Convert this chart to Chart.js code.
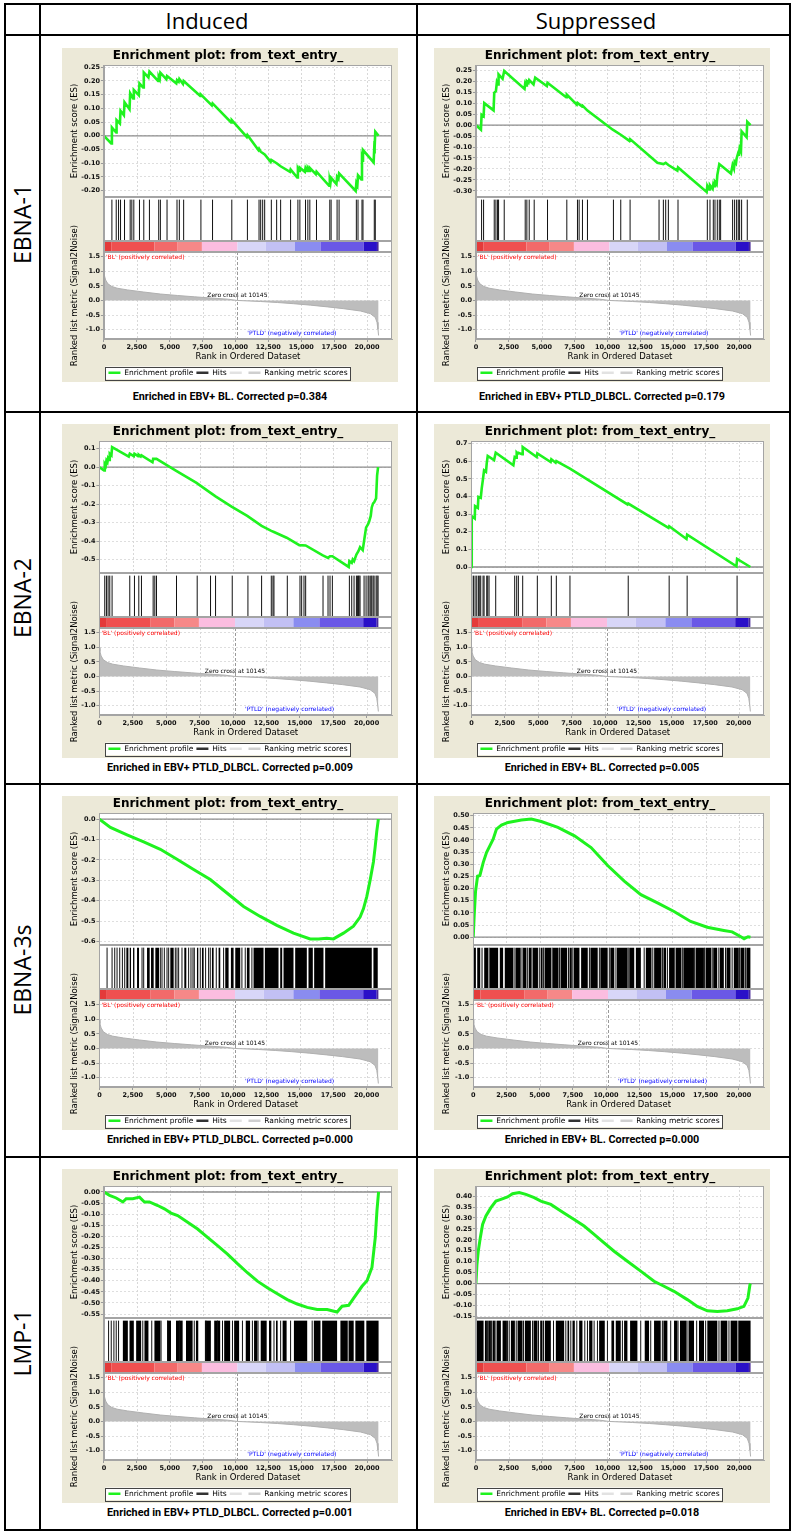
<!DOCTYPE html>
<html lang="en">
<head>
<meta charset="UTF-8">
<title>GSEA enrichment plots - EBV latent genes</title>
<script src="https://cdn.jsdelivr.net/npm/chart.js"></script>
<style>
  body { margin: 0; background: #fff; }
  #page { position: relative; width: 794px; height: 1536px; overflow: hidden; }
  .rule { position: absolute; background: #000; }
  .head { position: absolute; width: 300px; text-align: center; font-family: 'Open Sans', sans-serif; font-size: 22px; line-height: 30px; color: #000; }
  .rowname { position: absolute; width: 300px; height: 30px; line-height: 30px; text-align: center;
             font-family: 'Open Sans', sans-serif; font-size: 23px; color: #000; transform: rotate(-90deg); }
  .panel { position: absolute; width: 336px; height: 334px; background: #ece9d8; }
  .caption { position: absolute; width: 336px; text-align: center; font-family: Roboto, sans-serif;
             font-weight: bold; font-size: 10.8px; line-height: 14px; color: #000; }
</style>
</head>
<body>
<div id="page"></div>

<script>
// ---- data ----
const colNames = ['Induced', 'Suppressed'];
const rowNames = ['EBNA-1', 'EBNA-2', 'EBNA-3s', 'LMP-1'];
const captions = [
  'Enriched in EBV+ BL. Corrected p=0.384', 'Enriched in EBV+ PTLD_DLBCL. Corrected p=0.179',
  'Enriched in EBV+ PTLD_DLBCL. Corrected p=0.009', 'Enriched in EBV+ BL. Corrected p=0.005',
  'Enriched in EBV+ PTLD_DLBCL. Corrected p=0.000', 'Enriched in EBV+ BL. Corrected p=0.000',
  'Enriched in EBV+ PTLD_DLBCL. Corrected p=0.001', 'Enriched in EBV+ BL. Corrected p=0.018'
];
const legendText = ['Enrichment profile', 'Hits', '', 'Ranking metric scores'];
const corrLabels = ["'BL' (positively correlated)", "'PTLD' (negatively correlated)"];
const zeroCross = 10145;
const xTicks = [0, 2500, 5000, 7500, 10000, 12500, 15000, 17500, 20000];

// ranked list metric (same ranked list in every plot)
const rankPos = [0, 40, 130, 300, 600, 1000, 1800, 3000, 4300, 5600, 6900, 8100, 9400, 10145,
                 11900, 13200, 14400, 15700, 17000, 18200, 19500, 20250, 20630, 20760, 20830, 20880];
const rankMetric = [0.99, 0.85, 0.70, 0.57, 0.48, 0.42, 0.36, 0.29, 0.22, 0.17, 0.125, 0.085, 0.045, 0,
                    -0.035, -0.07, -0.11, -0.16, -0.22, -0.28, -0.36, -0.45, -0.58, -0.75, -0.98, -1.20];
// colour bar segment edges along the ranked list
const barEdges = [0, 555, 3838, 5605, 7449, 10151, 12297, 14519, 16463, 19745, 20756, 20880];

// running enrichment score [rank, ES]
const ebna1IndES = [[0,0],[555,-0.028],[606,0.030],[934,0.012],[960,0.057],[1212,0.045],[1262,0.091],[1515,0.075],
  [1565,0.122],[1944,0.097],[1995,0.155],[2222,0.136],[2272,0.167],[2651,0.148],[2702,0.191],[2979,0.176],[3030,0.231],
  [3383,0.213],[3459,0.234],[4116,0.200],[4166,0.215],[4242,0.207],[4292,0.230],[4747,0.206],[4797,0.218],[5504,0.191],
  [5555,0.203],[5681,0.197],[5732,0.207],[6010,0.189],[6060,0.200],[7322,0.145],[7373,0.150],[8206,0.111],[8257,0.118],
  [9670,0.049],[9721,0.057],[10858,-0.004],[10908,0.003],[11741,-0.052],[11792,-0.047],[11918,-0.058],[12221,-0.068],
  [12675,-0.095],[12726,-0.088],[13130,-0.100],[13433,-0.111],[14140,-0.131],[14190,-0.123],[14695,-0.152],[14746,-0.119],
  [14847,-0.128],[14897,-0.116],[15276,-0.131],[15326,-0.117],[15453,-0.128],[15503,-0.119],[15604,-0.128],[15654,-0.117],
  [16109,-0.140],[16160,-0.131],[17119,-0.182],[17170,-0.162],[17220,-0.172],[17271,-0.153],[17675,-0.176],[17725,-0.150],
  [17826,-0.157],[17877,-0.137],[19140,-0.201],[19190,-0.172],[19266,-0.180],[19316,-0.144],[19569,-0.159],[19619,-0.086],
  [19644,-0.091],[19695,-0.052],[20503,-0.097],[20554,-0.040],[20579,-0.043],[20629,0.015],[20880,0]];
const ebna1SupES = [[0,0],[380,-0.021],[430,0.047],[582,0.040],[633,0.100],[1341,0.067],[1392,0.147],[1519,0.155],
  [1594,0.196],[1680,0.185],[1721,0.231],[2025,0.211],[2151,0.247],[3695,0.165],[3746,0.190],[3822,0.181],[3872,0.200],
  [3999,0.193],[4050,0.205],[4379,0.185],[4505,0.216],[5391,0.178],[5442,0.193],[6859,0.127],[6910,0.139],[7669,0.093],
  [7720,0.101],[8049,0.086],[8099,0.089],[8479,0.066],[10402,-0.021],[11010,-0.044],[11668,-0.072],[11719,-0.064],
  [13794,-0.172],[14250,-0.178],[14427,-0.172],[14630,-0.182],[15313,-0.208],[15363,-0.193],[17540,-0.305],[17591,-0.277],
  [17743,-0.294],[17793,-0.274],[17996,-0.290],[18046,-0.270],[18122,-0.279],[18173,-0.259],[18300,-0.270],[18350,-0.228],
  [18502,-0.178],[19388,-0.221],[19514,-0.182],[19615,-0.198],[19666,-0.167],[19768,-0.175],[19818,-0.152],[19944,-0.126],
  [19995,-0.129],[20046,-0.106],[20147,-0.121],[20198,-0.029],[20577,-0.055],[20628,0.015],[20880,0]];
const ebna2IndES = [[0,0],[350,-0.018],[400,0.018],[475,0.009],[525,0.036],[600,0.027],[649,0.049],[724,0.040],
  [774,0.073],[899,0.064],[949,0.109],[2198,0.058],[2273,0.073],[2573,0.060],[2623,0.073],[2898,0.060],[2948,0.067],
  [3097,0.058],[3147,0.064],[3972,0.027],[4022,0.045],[4272,0.045],[5720,-0.018],[7269,-0.085],[8268,-0.136],
  [8693,-0.158],[9892,-0.213],[11066,-0.264],[12140,-0.318],[12865,-0.345],[13065,-0.351],[14014,-0.382],[14963,-0.422],
  [15438,-0.424],[16687,-0.476],[17111,-0.491],[17261,-0.482],[17436,-0.482],[18660,-0.540],[18710,-0.509],[18885,-0.518],
  [18960,-0.500],[19060,-0.509],[19235,-0.473],[19385,-0.455],[19509,-0.433],[19709,-0.449],[19809,-0.400],[19959,-0.327],
  [20109,-0.309],[20184,-0.296],[20309,-0.264],[20384,-0.218],[20484,-0.196],[20559,-0.191],[20709,-0.169],[20784,-0.045],
  [20858,0],[20880,0]];
const ebna2SupES = [[0,0],[25,0.288],[250,0.275],[274,0.345],[480,0.335],[523,0.398],[700,0.392],[772,0.446],
  [850,0.490],[947,0.548],[1090,0.540],[1146,0.588],[1221,0.630],[1695,0.607],[1819,0.649],[3140,0.577],[3240,0.624],
  [3339,0.620],[3389,0.649],[3464,0.643],[3514,0.648],[3788,0.640],[3838,0.681],[4884,0.624],[4934,0.645],[5931,0.596],
  [5981,0.611],[6305,0.592],[6355,0.601],[7376,0.558],[11687,0.355],[11737,0.360],[14752,0.222],[14802,0.231],
  [16098,0.159],[16148,0.184],[19836,0.004],[19886,0.046],[20880,0]];
const ebna3IndES = [[0,0],[822,-0.041],[2068,-0.077],[3314,-0.112],[4560,-0.148],[5806,-0.197],[7052,-0.247],
  [8298,-0.296],[9544,-0.362],[10790,-0.428],[12036,-0.477],[13282,-0.521],[14528,-0.559],[15774,-0.587],[16397,-0.587],
  [17020,-0.584],[17519,-0.587],[18266,-0.559],[19014,-0.525],[19512,-0.480],[19761,-0.440],[20011,-0.380],
  [20260,-0.300],[20509,-0.210],[20634,-0.140],[20760,-0.060],[20880,0]];
const ebna3SupES = [[0,0],[75,0.093],[175,0.189],[325,0.251],[500,0.254],[750,0.307],[1000,0.348],[1250,0.376],
  [1500,0.403],[1750,0.445],[2125,0.461],[2625,0.472],[3125,0.477],[3625,0.482],[4375,0.486],[5125,0.476],[6375,0.452],
  [7625,0.417],[8875,0.369],[10125,0.295],[11375,0.231],[12625,0.175],[13875,0.141],[15125,0.106],[16375,0.065],
  [17625,0.041],[18875,0.028],[19500,0.022],[20125,0.003],[20400,-0.006],[20700,0.002],[20880,0]];
const lmp1IndES = [[0,0],[429,-0.015],[934,-0.027],[1439,-0.045],[1692,-0.030],[2197,-0.030],[2702,-0.023],
  [3080,-0.045],[3459,-0.045],[4090,-0.061],[4596,-0.076],[5100,-0.095],[5606,-0.106],[6363,-0.136],[7120,-0.167],
  [7878,-0.205],[8636,-0.242],[9393,-0.280],[10151,-0.323],[10908,-0.364],[11666,-0.402],[12423,-0.432],[13181,-0.459],
  [13938,-0.485],[14696,-0.505],[15453,-0.520],[16211,-0.530],[16968,-0.530],[17726,-0.541],[18104,-0.515],
  [18609,-0.511],[18988,-0.478],[19620,-0.425],[19998,-0.400],[20377,-0.340],[20629,-0.205],[20755,-0.085],[20880,0]];
const lmp1SupES = [[0,0],[76,0.087],[177,0.148],[329,0.209],[506,0.270],[759,0.309],[1139,0.347],[1519,0.377],
  [1898,0.385],[2404,0.396],[2784,0.411],[3290,0.416],[3797,0.408],[4429,0.393],[4935,0.377],[5694,0.362],[6454,0.332],
  [7466,0.293],[8225,0.263],[8985,0.225],[9744,0.186],[10503,0.148],[11515,0.102],[12527,0.057],[13540,0.011],
  [14299,-0.012],[15058,-0.035],[16071,-0.073],[16830,-0.104],[17590,-0.124],[18350,-0.127],[19109,-0.124],
  [19868,-0.115],[20375,-0.104],[20679,-0.066],[20831,-0.005],[20880,0]];

// hit positions (rank) and runs of hits too dense to separate [from, to]
const ebna1IndHits = [606, 934, 1111, 1262, 1565, 1995, 2121, 2272, 2702, 3030, 3459, 4166, 4292, 4797, 5555, 5732,
  6060, 7373, 8257, 9721, 10908, 11792, 11918, 12069, 12221, 12726, 13130, 13433, 14190, 14746, 14897, 15326, 15503,
  15654, 16160, 17170, 17271, 17725, 17877, 19190, 19316, 19619, 19695, 20554, 20629];
const ebna1SupHits = [430, 582, 1392, 1519, 1645, 1721, 2151, 3746, 3872, 4050, 4429, 5442, 6910, 7720, 7846, 8099,
  8479, 10453, 11010, 11719, 13921, 14250, 14427, 14630, 15363, 17591, 17793, 18046, 18173, 18350, 18502, 18603, 19514,
  19666, 19818, 19944, 20046, 20198, 20628];
const ebna2IndHits = [400, 525, 649, 774, 949, 2273, 2623, 2948, 3147, 4022, 4147, 4272, 5770, 7319, 8318, 8693, 9942,
  11116, 12140, 12865, 12990, 13065, 14064, 15013, 15138, 15313, 15438, 16737, 17111, 17261, 17436, 18710, 18885, 19060,
  19235, 19310, 19385, 19435, 19509, 19809, 19959, 20109, 20184, 20309, 20384, 20484, 20559, 20709, 20784, 20858];
const ebna2SupHits = [25, 150, 274, 399, 523, 623, 698, 872, 947, 1146, 1221, 1321, 1819, 3240, 3389, 3514, 3838, 4934,
  5981, 6355, 7376, 11737, 14802, 16148, 19886];
const ebna3IndHits = [573, 947, 1146, 1321, 1520, 1719, 1894, 3190, 3314, 4560, 4685, 4859, 5059, 5183, 5682, 5806,
  5931, 6180, 6678, 6853, 7003, 7102, 7551, 7949, 8174, 8298, 8747, 9295, 10666, 10915, 11413];
const ebna3IndRuns = [[2018,2168],[2268,2367],[2517,2617],[2816,2965],[3564,3763],[3863,4062],[4187,4461],[5308,5557],
  [6355,6504],[7302,7401],[7675,7800],[8423,8548],[8921,9046],[9420,9669],[9843,10043],[10168,10541],[11039,11239],
  [11538,12285],[12385,13407],[13532,13681],[13781,14528],[14653,15525],[15649,15973],[16073,16771],[16896,20385],
  [20509,20833]];
const ebna3SupHits = [1200, 3075, 3675, 4075, 4425, 4975, 5300, 5950, 6500, 7175, 7500, 8750, 9500, 10250, 10750,
  11675, 12875, 13525, 14250, 14625, 15175, 15750, 16675, 17425, 18000, 18500, 19000, 19500, 20050, 20500];
const ebna3SupRuns = [[50,200],[300,525],[625,700],[825,1125],[1250,1875],[2000,2250],[2375,3000],[3175,3575],
  [3750,4000],[4175,4375],[4500,4875],[5075,5225],[5375,5875],[6000,6425],[6575,7075],[7250,7425],[7575,8000],
  [8125,8625],[8825,9375],[9575,10125],[10325,10625],[10825,11625],[11750,12125],[12250,12625],[13000,13425],
  [13625,14175],[14325,14525],[14750,15125],[15250,15675],[15825,16625],[16750,17375],[17500,17925],[18075,18375],
  [18575,18875],[19075,19375],[19625,20000],[20125,20425],[20575,20875]];
const lmp1IndHits = [354, 556, 758, 934, 1111, 2954, 3636, 4343, 4848, 5732, 6868, 7752, 8636, 9015, 9772, 10530,
  11287, 11716, 12928, 13433, 14190, 15832, 18534];
const lmp1IndRuns = [[1439,1818],[1944,2272],[2449,2828],[3080,3384],[3838,4292],[4797,5100],[5479,5984],[6237,6742],
  [6994,7171],[7676,8130],[8383,8838],[9141,9595],[9898,10277],[10782,11110],[11413,11666],[11919,12373],[12549,12726],
  [13080,13206],[13585,13888],[14443,15453],[15958,16463],[16589,17726],[17978,18483],[18609,18988],[19114,19796],
  [19948,20880]];
const lmp1SupHits = [886, 1190, 1519, 2404, 2531, 3063, 3619, 4303, 4758, 5138, 5897, 6834, 7213, 7669, 8276, 8479,
  8985, 9238, 9997, 11136, 12528, 13288, 14174, 14807, 15364, 16123, 16781, 17464, 18477, 19236, 19944];
const lmp1SupRuns = [[0,582],[683,835],[936,1139],[1265,1443],[1595,1898],[2025,2354],[2658,2961],[3164,3543],
  [3721,4176],[4379,4682],[4885,5062],[5239,5694],[6074,6707],[6960,7087],[7340,7517],[7846,8099],[8605,8858],
  [9365,9795],[10301,10503],[10630,11010],[11263,11516],[11719,12275],[12832,13161],[13541,14047],[14250,14554],
  [15060,15313],[15515,16021],[16198,16578],[16958,17338],[17591,18350],[18603,19110],[19362,19868],[19995,20880]];

// ---- styling ----
const GREEN = '#1ff21f';
const FRAME = '#a4a4a4';
const barColors = ['#e43a3a', '#ef5050', '#f26a6a', '#f68888', '#fbbde0', '#d8d6f8', '#c2c0f4', '#8a8cf0',
                   '#6a58e6', '#2a10c8', '#4a2a9a'];
const legendColors = [GREEN, '#333333', '#e2e2e2', '#cfcfcf'];
const panelX = [62, 434];
const panelTop = [48, 424, 796, 1169];
const captionY = [397, 768, 1140, 1513];

const panels = [
  { es: ebna1IndES, hits: ebna1IndHits, runs: [], min: -0.223, max: 0.258, step: 0.05, dec: 2 },
  { es: ebna1SupES, hits: ebna1SupHits, runs: [], min: -0.328, max: 0.274, step: 0.05, dec: 2 },
  { es: ebna2IndES, hits: ebna2IndHits, runs: [], min: -0.573, max: 0.142, step: 0.1, dec: 1 },
  { es: ebna2SupES, hits: ebna2SupHits, runs: [], min: -0.034, max: 0.715, step: 0.1, dec: 1 },
  { es: ebna3IndES, hits: ebna3IndHits, runs: ebna3IndRuns, min: -0.617, max: 0.03, step: 0.1, dec: 1 },
  { es: ebna3SupES, hits: ebna3SupHits, runs: ebna3SupRuns, min: -0.032, max: 0.511, step: 0.05, dec: 2 },
  { es: lmp1IndES, hits: lmp1IndHits, runs: lmp1IndRuns, min: -0.568, max: 0.027, step: 0.05, dec: 2 },
  { es: lmp1SupES, hits: lmp1SupHits, runs: lmp1SupRuns, min: -0.157, max: 0.446, step: 0.05, dec: 2 }
];

// ---- table frame and texts ----
const page = document.getElementById('page');
function add(cls, css, text) {
  const d = document.createElement('div');
  d.className = cls;
  Object.assign(d.style, css);
  if (text !== undefined) d.textContent = text;
  page.appendChild(d);
  return d;
}
[3, 34, 411, 783, 1156, 1529].forEach(y => add('rule', { left: '4px', top: y + 'px', width: '787px', height: '2px' }));
[4, 39, 416, 789].forEach(x => add('rule', { left: x + 'px', top: '3px', width: '2px', height: '1528px' }));
[207, 596].forEach((cx, i) => add('head', { left: (cx - 150) + 'px', top: '5px' }, colNames[i]));
[224, 598, 970, 1343].forEach((cy, i) => add('rowname', { left: (22 - 150) + 'px', top: (cy - 15) + 'px' }, rowNames[i]));

// ---- drawing helpers on the chart's own scales ----
const gseaDecor = {
  id: 'gseaDecor',
  beforeDraw(chart) {
    const { ctx, chartArea: a, legend } = chart;
    ctx.save();
    ctx.fillStyle = '#fff';
    ctx.fillRect(a.left, a.top, a.width, a.height);
    const hb = legend.legendHitBoxes;
    if (hb && hb.length) {
      const l = Math.min(...hb.map(h => h.left)) - 3;
      const r = Math.max(...hb.map(h => h.left + h.width)) + 3;
      const t = hb[0].top - 2.5;
      const h = hb[0].height + 5;
      ctx.fillRect(l, t, r - l, h);
      ctx.strokeStyle = '#444';
      ctx.lineWidth = 1;
      ctx.strokeRect(Math.round(l) + 0.5, Math.round(t) + 0.5, Math.round(r - l), Math.round(h));
    }
    ctx.restore();
  },
  beforeDatasetsDraw(chart) {
    const { ctx, chartArea: a, scales: s } = chart;
    ctx.save();
    ctx.lineWidth = 1;
    ctx.strokeStyle = '#d8d8d8';
    ctx.setLineDash([2, 2]);
    for (const t of s.x.ticks) {
      const px = Math.round(s.x.getPixelForValue(t.value)) + 0.5;
      for (const id of ['yES', 'yRank']) {
        ctx.beginPath();
        ctx.moveTo(px, s[id].top);
        ctx.lineTo(px, s[id].bottom);
        ctx.stroke();
      }
    }
    ctx.strokeStyle = '#9a9a9a';
    ctx.setLineDash([3, 2]);
    const zx = Math.round(s.x.getPixelForValue(zeroCross)) + 0.5;
    ctx.beginPath();
    ctx.moveTo(zx, s.yRank.top);
    ctx.lineTo(zx, s.yRank.bottom);
    ctx.stroke();
    ctx.setLineDash([]);
    ctx.strokeStyle = '#8c8c8c';
    ctx.lineWidth = 1.3;
    const zy = s.yES.getPixelForValue(0);
    ctx.beginPath();
    ctx.moveTo(a.left, zy);
    ctx.lineTo(a.right, zy);
    ctx.stroke();
    ctx.restore();
  },
  afterDatasetsDraw(chart) {
    const { ctx, chartArea: a, scales: s } = chart;
    ctx.save();
    ctx.strokeStyle = FRAME;
    ctx.lineWidth = 1;
    for (const id of ['yES', 'yHits', 'yBar', 'yRank']) {
      ctx.strokeRect(Math.round(a.left) + 0.5, Math.round(s[id].top) + 0.5,
                     Math.round(a.width) - 1, Math.round(s[id].height) - 1);
    }
    ctx.font = '6px "DejaVu Sans"';
    ctx.textBaseline = 'top';
    ctx.fillStyle = '#ff0000';
    ctx.textAlign = 'left';
    ctx.fillText(corrLabels[0], a.left + 2, s.yRank.top + 2);
    ctx.fillStyle = '#000';
    ctx.textAlign = 'center';
    ctx.textBaseline = 'bottom';
    ctx.fillText('Zero cross at ' + zeroCross, s.x.getPixelForValue(zeroCross), s.yRank.getPixelForValue(0) - 2);
    ctx.fillStyle = '#0000ff';
    ctx.textAlign = 'left';
    ctx.fillText(corrLabels[1], s.x.getPixelForValue(10900), s.yRank.bottom - 3);
    ctx.restore();
  }
};

Chart.defaults.font.family = "'DejaVu Sans', sans-serif";
Chart.defaults.color = '#000';

const tickFont = { size: 6.5, weight: 'bold' };
const titleFont = { size: 8.5 };

function stripAxis(weight, stackWeight) {
  return {
    type: 'linear', position: 'left', stack: 'gsea', weight: weight, stackWeight: stackWeight,
    min: 0, max: 1, ticks: { display: false },
    afterBuildTicks: s => { s.ticks = []; },
    grid: { display: false }, border: { color: FRAME }
  };
}

function buildPanel(p, idx) {
  const col = idx % 2, row = Math.floor(idx / 2);
  const box = add('panel', { left: panelX[col] + 'px', top: panelTop[row] + 'px' });
  const cv = document.createElement('canvas');
  cv.width = 336;
  cv.height = 334;
  box.appendChild(cv);
  add('caption', { left: panelX[col] + 'px', top: (captionY[row] - 7) + 'px' }, captions[idx]);

  new Chart(cv, {
    data: {
      datasets: [
        {
          type: 'line', label: legendText[0], yAxisID: 'yES',
          data: p.es.map(([x, y]) => ({ x, y })),
          borderColor: GREEN, borderWidth: p.runs.length ? 3 : 2.6, pointRadius: 0, tension: 0, fill: false
        },
        {
          type: 'scatter', label: legendText[1], yAxisID: 'yHits',
          data: p.hits.map(x => ({ x, y: 0.47 })),
          pointStyle: 'line', pointRotation: 90,
          pointRadius: c => c.chart.scales.yHits.height * 0.47,
          pointBorderColor: '#111', pointBorderWidth: 1
        },
        {
          type: 'bar', label: 'Hit runs', indexAxis: 'y', yAxisID: 'yHits', grouped: false,
          data: p.runs.map(([a, b]) => ({ x: [a, b], y: 0.47 })),
          backgroundColor: '#000', borderWidth: 0, inflateAmount: 0, barPercentage: 0.94, categoryPercentage: 1
        },
        {
          type: 'bar', label: 'Ranked list', indexAxis: 'y', yAxisID: 'yBar', grouped: false,
          data: barEdges.slice(1).map((e, i) => ({ x: [barEdges[i], e], y: 0.5 })),
          backgroundColor: barColors, borderWidth: 0, inflateAmount: 0, barPercentage: 1, categoryPercentage: 1
        },
        {
          type: 'line', label: legendText[3], yAxisID: 'yRank',
          data: rankPos.map((x, i) => ({ x, y: rankMetric[i] })),
          borderColor: '#b0b0b0', backgroundColor: '#bdbdbd', borderWidth: 1, pointRadius: 0, tension: 0,
          fill: 'origin'
        }
      ]
    },
    options: {
      responsive: false,
      animation: false,
      events: [],
      layout: { padding: { top: 2, right: 6, bottom: 1, left: 2 } },
      plugins: {
        title: {
          display: true, text: 'Enrichment plot: from_text_entry_', color: '#000',
          font: { size: 12, weight: 'bold', lineHeight: 1 }, padding: { top: 0, bottom: 3 }
        },
        legend: {
          position: 'bottom', maxHeight: 15,
          labels: {
            boxWidth: 12, boxHeight: 2.5, padding: 3, color: '#000', font: { size: 7.5 },
            generateLabels: () => legendText.map((t, i) => ({
              text: t, fillStyle: legendColors[i], strokeStyle: legendColors[i], lineWidth: 0,
              hidden: false, datasetIndex: i, fontColor: '#000'
            }))
          }
        },
        tooltip: { enabled: false }
      },
      scales: {
        x: {
          type: 'linear', min: 0, max: 21900,
          afterBuildTicks: s => { s.ticks = xTicks.map(value => ({ value })); },
          afterFit: s => { s.height = 27; },
          ticks: { autoSkip: false, maxRotation: 0, padding: 1, font: tickFont, color: '#111' },
          grid: { drawOnChartArea: false, tickLength: 3, color: '#999' },
          border: { color: FRAME },
          title: { display: true, text: 'Rank in Ordered Dataset', font: titleFont, padding: { top: 0, bottom: 4 } }
        },
        yES: {
          type: 'linear', position: 'left', stack: 'gsea', weight: 4, stackWeight: 132,
          min: p.min, max: p.max,
          ticks: { stepSize: p.step, includeBounds: false, autoSkip: false, maxTicksLimit: 40, padding: 1,
                   font: tickFont, color: '#111', callback: v => v.toFixed(p.dec) },
          grid: { color: '#dedede', tickLength: 3, tickColor: '#999' },
          border: { color: FRAME, dash: [2, 2] },
          title: { display: true, text: 'Enrichment score (ES)', font: titleFont, padding: { top: 6, bottom: 0 } }
        },
        yHits: stripAxis(3, 44),
        yBar: stripAxis(2, 11),
        yRank: {
          type: 'linear', position: 'left', stack: 'gsea', weight: 1, stackWeight: 87,
          min: -1.32, max: 1.66,
          ticks: { stepSize: 0.5, includeBounds: false, autoSkip: false, maxTicksLimit: 40, padding: 1,
                   font: tickFont, color: '#111', callback: v => v.toFixed(1) },
          grid: { color: '#dedede', tickLength: 3, tickColor: '#999' },
          border: { color: FRAME, dash: [2, 2] },
          title: { display: true, text: 'Ranked list metric (Signal2Noise)', font: titleFont,
                   padding: { top: 6, bottom: 0 } }
        }
      }
    },
    plugins: [gseaDecor]
  });
}

panels.forEach(buildPanel);
</script>
</body>
</html>
